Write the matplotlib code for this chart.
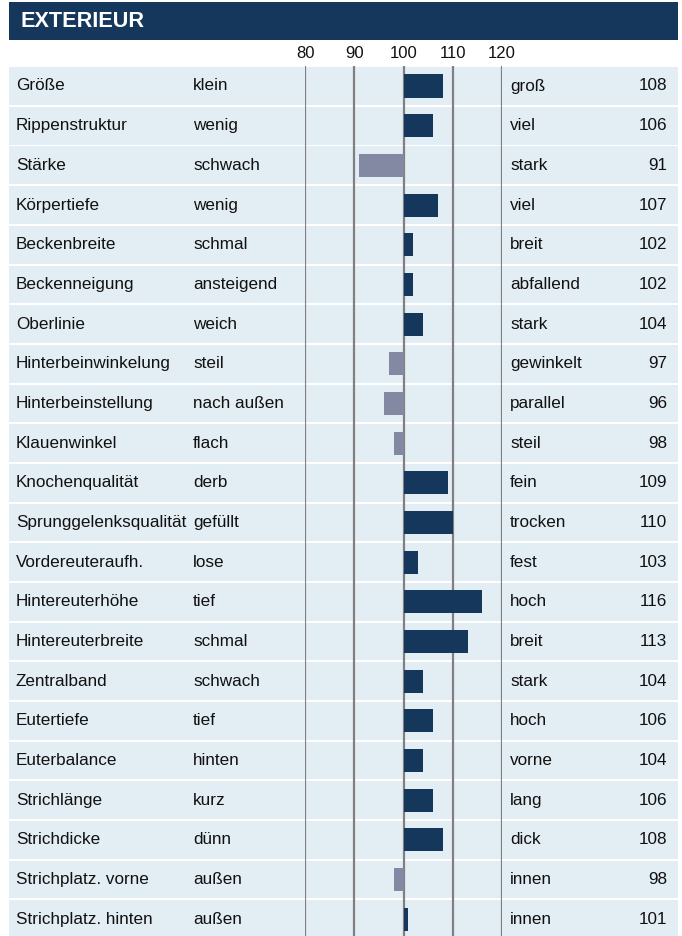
import matplotlib.pyplot as plt
from matplotlib.patches import Rectangle

plt.rcParams['font.family'] = ['Liberation Sans', 'DejaVu Sans']

# chart data
traits = ["Größe", "Rippenstruktur", "Stärke", "Körpertiefe", "Beckenbreite",
          "Beckenneigung", "Oberlinie", "Hinterbeinwinkelung", "Hinterbeinstellung",
          "Klauenwinkel", "Knochenqualität", "Sprunggelenksqualität", "Vordereuteraufh.",
          "Hintereuterhöhe", "Hintereuterbreite", "Zentralband", "Eutertiefe",
          "Euterbalance", "Strichlänge", "Strichdicke", "Strichplatz. vorne",
          "Strichplatz. hinten"]
low_labels = ["klein", "wenig", "schwach", "wenig", "schmal", "ansteigend", "weich",
              "steil", "nach außen", "flach", "derb", "gefüllt", "lose", "tief",
              "schmal", "schwach", "tief", "hinten", "kurz", "dünn", "außen", "außen"]
high_labels = ["groß", "viel", "stark", "viel", "breit", "abfallend", "stark",
               "gewinkelt", "parallel", "steil", "fein", "trocken", "fest", "hoch",
               "breit", "stark", "hoch", "vorne", "lang", "dick", "innen", "innen"]
values = [108, 106, 91, 107, 102, 102, 104, 97, 96, 98, 109, 110, 103, 116, 113,
          104, 106, 104, 106, 108, 98, 101]
ticks = [80, 90, 100, 110, 120]

navy = "#16375C"
grey_bar = "#8388A3"
row_bg = "#E2EDF4"
grid_col = "#808080"
txt = "#111111"

W, H = 682, 936
pitch = 39.67
first_center = 86
y_top = -first_center / pitch
y_bot = (H - first_center) / pitch

fig = plt.figure(figsize=(W / 100, H / 100), dpi=100)

# background axes: x in pixels, y in row index
ax_bg = fig.add_axes([0, 0, 1, 1])
ax_bg.set_xlim(0, W)
ax_bg.set_ylim(y_bot, y_top)
ax_bg.axis("off")

# header bar
hy0 = (2 - first_center) / pitch
hy1 = (40 - first_center) / pitch
ax_bg.add_patch(Rectangle((9, hy0), 669, hy1 - hy0, color=navy, lw=0))
ax_bg.text(21, (hy0 + hy1) / 2 + 0.02, "EXTERIEUR", color="white", fontsize=15.6,
           fontweight="bold", va="center", ha="left")

fs = 12.3
for i, (t, lo, hi, v) in enumerate(zip(traits, low_labels, high_labels, values)):
    ax_bg.add_patch(Rectangle((9, i - 0.475), 669, 0.95, color=row_bg, lw=0))
    ax_bg.text(16, i, t, fontsize=fs, va="center", ha="left", color=txt)
    ax_bg.text(193, i, lo, fontsize=fs, va="center", ha="left", color=txt)
    ax_bg.text(510, i, hi, fontsize=fs, va="center", ha="left", color=txt)
    ax_bg.text(667, i, str(v), fontsize=fs, va="center", ha="right", color=txt)

# bar axes: x in index units
ax = fig.add_axes([305 / W, 0, (502 - 305) / W, 1])
ax.set_xlim(80, 120)
ax.set_ylim(y_bot, y_top)
ax.patch.set_alpha(0)
ax.axis("off")

ax.vlines(ticks, -0.5, y_bot, color=grid_col, lw=1.6, zorder=1)
for t in ticks:
    ax.text(t, (54 - first_center) / pitch, str(t), fontsize=12, ha="center",
            va="center", color=txt)

rows = list(range(len(values)))
colors = [navy if v >= 100 else grey_bar for v in values]
ax.barh(rows, [v - 100 for v in values], left=100, height=0.58,
        color=colors, zorder=2)

fig.savefig("out.png", dpi=100)
